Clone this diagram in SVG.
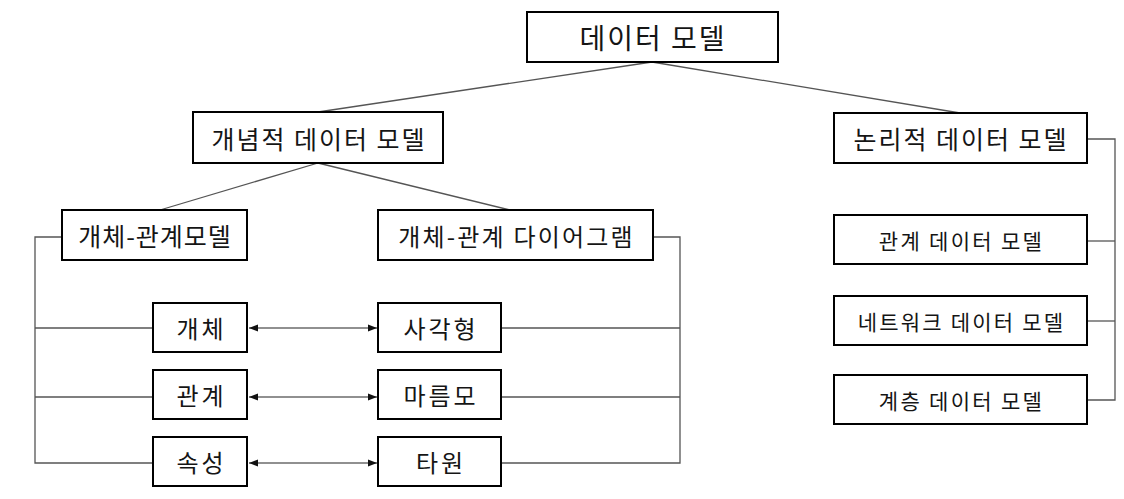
<svg xmlns="http://www.w3.org/2000/svg" width="1124" height="499" viewBox="0 0 1124 499">
<style>
.box{fill:#fff;stroke:#000;stroke-width:2}
.t{font-family:"Noto Sans CJK KR","Noto Sans",sans-serif;fill:#151515;text-anchor:middle;dominant-baseline:central}
.c{fill:none;stroke:#555;stroke-width:1.3}
.a{fill:none;stroke:#222;stroke-width:1.2;marker-start:url(#ah);marker-end:url(#ah)}
</style>
<defs>
<marker id="ah" viewBox="0 0 10 10" refX="10" refY="5" markerWidth="9" markerHeight="9" markerUnits="userSpaceOnUse" orient="auto-start-reverse">
<path d="M0,1 L10,5 L0,9 Z" fill="#111"/>
</marker>
</defs>
<rect width="1124" height="499" fill="#fff"/>
<g id="connectors">
<path class="c" d="M652,62 L318,112"/>
<path class="c" d="M652,62 L960,113"/>
<path class="c" d="M318,163 L160,210"/>
<path class="c" d="M318,163 L510,210"/>
<path class="c" d="M62,237 H35 V463 H153"/>
<path class="c" d="M35,328 H153"/>
<path class="c" d="M35,397 H153"/>
<path class="c" d="M653,237 H680 V463 H501"/>
<path class="c" d="M680,328 H501"/>
<path class="c" d="M680,397 H501"/>
<path class="c" d="M1087,139 H1115 V400 H1087"/>
<path class="c" d="M1115,241 H1087"/>
<path class="c" d="M1115,321 H1087"/>
<path class="a" d="M249,328 H377"/>
<path class="a" d="M249,397 H377"/>
<path class="a" d="M249,463 H377"/>
</g>
<g id="n-root"><rect class="box" x="527" y="12" width="251" height="50"/><text class="t" x="653" y="37" font-size="28" letter-spacing="2">데이터 모델</text></g>
<g id="n-concept"><rect class="box" x="193" y="112" width="250" height="51"/><text class="t" x="319" y="137.5" font-size="25" letter-spacing="2">개념적 데이터 모델</text></g>
<g id="n-logical"><rect class="box" x="834" y="113" width="253" height="50"/><text class="t" x="961" y="138" font-size="25" letter-spacing="2">논리적 데이터 모델</text></g>
<g id="n-erm"><rect class="box" x="62" y="210" width="185" height="50"/><text class="t" x="155" y="235" font-size="25" letter-spacing="1">개체-관계모델</text></g>
<g id="n-erd"><rect class="box" x="378" y="210" width="275" height="50"/><text class="t" x="516.5" y="235" font-size="24" letter-spacing="2.2">개체-관계 다이어그램</text></g>
<g id="n-entity"><rect class="box" x="153" y="303" width="94" height="49"/><text class="t" x="201.5" y="327.5" font-size="24" letter-spacing="3">개체</text></g>
<g id="n-rect"><rect class="box" x="378" y="303" width="123" height="49"/><text class="t" x="441" y="327.5" font-size="24" letter-spacing="3">사각형</text></g>
<g id="n-rel"><rect class="box" x="153" y="370" width="94" height="49"/><text class="t" x="201.5" y="394.5" font-size="24" letter-spacing="3">관계</text></g>
<g id="n-diamond"><rect class="box" x="378" y="370" width="123" height="49"/><text class="t" x="441" y="394.5" font-size="24" letter-spacing="3">마름모</text></g>
<g id="n-attr"><rect class="box" x="153" y="437" width="94" height="49"/><text class="t" x="201.5" y="461.5" font-size="24" letter-spacing="3">속성</text></g>
<g id="n-ellipse"><rect class="box" x="378" y="437" width="123" height="49"/><text class="t" x="441" y="461.5" font-size="24" letter-spacing="3">타원</text></g>
<g id="n-relational"><rect class="box" x="834" y="215" width="253" height="49"/><text class="t" x="961.5" y="239.5" font-size="21" letter-spacing="2.3">관계 데이터 모델</text></g>
<g id="n-network"><rect class="box" x="834" y="296" width="253" height="49"/><text class="t" x="961.5" y="320.5" font-size="21" letter-spacing="2.2">네트워크 데이터 모델</text></g>
<g id="n-hier"><rect class="box" x="834" y="375" width="253" height="49"/><text class="t" x="961.5" y="399.5" font-size="21" letter-spacing="2.3">계층 데이터 모델</text></g>
</svg>
